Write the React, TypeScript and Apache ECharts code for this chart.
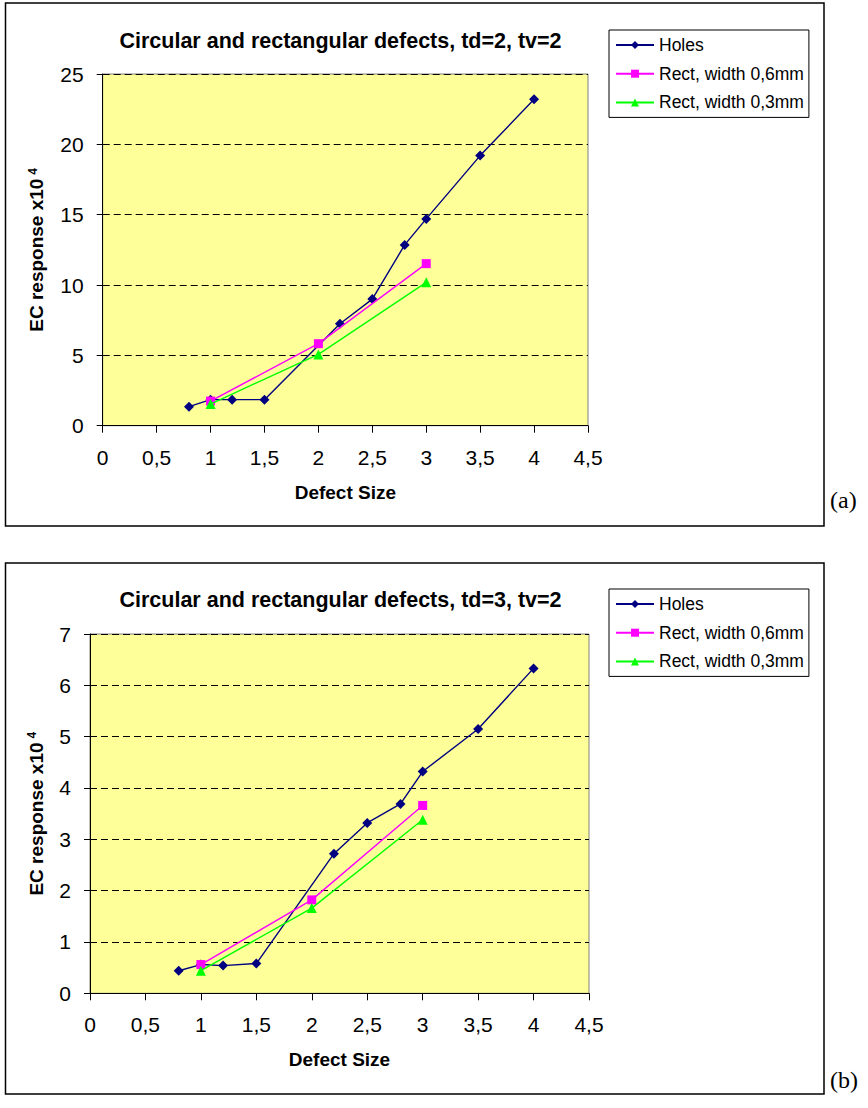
import React, { useEffect, useRef } from "react";
import * as echarts from "echarts";

// ---- Data ----
const holesX = [0.8, 1, 1.2, 1.5, 2.2, 2.5, 2.8, 3, 3.5, 4];
const rectX = [1, 2, 3];

// Chart (a): td=2, tv=2
const holesA = [1.35, 1.85, 1.85, 1.85, 7.25, 9.0, 12.85, 14.7, 19.2, 23.2];
const rect06A = [1.75, 5.83, 11.52];
const rect03A = [1.54, 5.07, 10.19];

// Chart (b): td=3, tv=2
const holesB = [0.44, 0.56, 0.54, 0.58, 2.72, 3.32, 3.69, 4.32, 5.15, 6.33];
const rect06B = [0.56, 1.82, 3.66];
const rect03B = [0.44, 1.66, 3.38];

const seriesNames = ["Holes", "Rect, width 0,6mm", "Rect, width 0,3mm"];
const titles = [
  "Circular and rectangular defects, td=2, tv=2",
  "Circular and rectangular defects, td=3, tv=2",
];
const xTicks = { min: 0, max: 4.5, interval: 0.5 };
const yTicksA = { min: 0, max: 25, interval: 5 };
const yTicksB = { min: 0, max: 7, interval: 1 };
const xName = "Defect Size";
const yName = "EC response x10{sup|4}";

const FONT = '"Liberation Sans", Arial, Helvetica, sans-serif';
const SERIF = '"Liberation Serif", "Times New Roman", serif';

const pair = (xs: number[], ys: number[]) => xs.map((x, i) => [x, ys[i]]);

function buildOption() {
  const grids = [
    { left: 102.7, top: 74, width: 485.3, height: 351.7 },
    { left: 90, top: 634, width: 499, height: 359.3 },
  ].map((g) => ({
    ...g,
    show: true,
    backgroundColor: "#FFFF99",
    borderColor: "#808080",
    borderWidth: 1,
    containLabel: false,
    outerBoundsMode: "none",
  }));

  const mkX = (gi: number) => ({
    gridIndex: gi,
    type: "value",
    min: xTicks.min,
    max: xTicks.max,
    interval: xTicks.interval,
    name: xName,
    nameLocation: "middle",
    nameGap: 57,
    nameTextStyle: { fontFamily: FONT, fontSize: 19, fontWeight: "bold", color: "#000" },
    axisLine: { show: true, onZero: false, lineStyle: { color: "#000", width: 1 } },
    axisTick: { show: true, inside: false, length: 7, lineStyle: { color: "#000", width: 1 } },
    axisLabel: {
      fontFamily: FONT,
      fontSize: 21,
      color: "#000",
      margin: 21,
      formatter: (v: number) => String(v).replace(".", ","),
    },
    splitLine: { show: false },
  });

  const mkY = (gi: number, t: { min: number; max: number; interval: number }, gap: number) => ({
    gridIndex: gi,
    type: "value",
    min: t.min,
    max: t.max,
    interval: t.interval,
    name: yName,
    nameLocation: "middle",
    nameGap: gap,
    nameRotate: 90,
    nameTextStyle: {
      fontFamily: FONT,
      fontSize: 19,
      fontWeight: "bold",
      color: "#000",
      rich: {
        sup: {
          fontFamily: FONT,
          fontSize: 12,
          fontWeight: "bold",
          color: "#000",
          verticalAlign: "top",
          padding: [0, 0, 8, 4],
        },
      },
    },
    axisLine: { show: true, onZero: false, lineStyle: { color: "#000", width: 1 } },
    axisTick: { show: true, inside: false, length: 6, lineStyle: { color: "#000", width: 1 } },
    axisLabel: { fontFamily: FONT, fontSize: 21, color: "#000", margin: 19 },
    splitLine: { show: true, lineStyle: { color: "#000", width: 1, type: [7, 4] } },
  });

  const colors = ["#000080", "#FF00FF", "#00FF00"];
  const symbols = ["diamond", "rect", "triangle"];
  const sizes = [10, 9, 10];

  const mkSeries = (gi: number, datasets: number[][][]) =>
    datasets.map((d, i) => ({
      name: seriesNames[i],
      type: "line",
      xAxisIndex: gi,
      yAxisIndex: gi,
      data: d,
      symbol: symbols[i],
      symbolSize: sizes[i],
      showAllSymbol: true,
      lineStyle: { color: colors[i], width: 1.4 },
      itemStyle: { color: colors[i], borderWidth: 0 },
      emphasis: { disabled: true },
      z: 2 + i,
    }));

  const mkLegend = (top: number) => ({
    show: true,
    orient: "vertical",
    left: 609,
    top,
    data: seriesNames,
    backgroundColor: "#fff",
    borderColor: "#000",
    borderWidth: 1,
    padding: [6, 5, 6, 6],
    itemWidth: 38,
    itemHeight: 10,
    itemGap: 10.7,
    selectedMode: false,
    textStyle: { fontFamily: FONT, fontSize: 17.5, color: "#000", lineHeight: 18 },
  });

  return {
    animation: false,
    backgroundColor: "#fff",
    grid: grids,
    xAxis: [mkX(0), mkX(1)],
    yAxis: [mkY(0, yTicksA, 56), mkY(1, yTicksB, 44)],
    legend: [mkLegend(30), mkLegend(589)],
    series: [
      ...mkSeries(0, [pair(holesX, holesA), pair(rectX, rect06A), pair(rectX, rect03A)]),
      ...mkSeries(1, [pair(holesX, holesB), pair(rectX, rect06B), pair(rectX, rect03B)]),
    ],
    graphic: [
      {
        type: "rect",
        shape: { x: 5.5, y: 3, width: 818.5, height: 523 },
        style: { fill: "none", stroke: "#000", lineWidth: 1.5 },
        z: -10,
        silent: true,
      },
      {
        type: "rect",
        shape: { x: 5.5, y: 563, width: 818.5, height: 531 },
        style: { fill: "none", stroke: "#000", lineWidth: 1.5 },
        z: -10,
        silent: true,
      },
      {
        type: "text",
        x: 340.5,
        y: 40.5,
        style: {
          text: titles[0],
          font: `bold 21.5px ${FONT}`,
          fill: "#000",
          textAlign: "center",
          textVerticalAlign: "middle",
        },
      },
      {
        type: "text",
        x: 340.5,
        y: 600,
        style: {
          text: titles[1],
          font: `bold 21.5px ${FONT}`,
          fill: "#000",
          textAlign: "center",
          textVerticalAlign: "middle",
        },
      },
      {
        type: "text",
        x: 830,
        y: 500,
        style: { text: "(a)", font: `24px ${SERIF}`, fill: "#000", textAlign: "left", textVerticalAlign: "middle" },
      },
      {
        type: "text",
        x: 830,
        y: 1080,
        style: { text: "(b)", font: `24px ${SERIF}`, fill: "#000", textAlign: "left", textVerticalAlign: "middle" },
      },
    ],
  };
}

export default function App() {
  const ref = useRef<HTMLDivElement>(null);
  useEffect(() => {
    if (!ref.current) return;
    const chart = echarts.init(ref.current, null, { renderer: "svg", width: 868, height: 1108 });
    chart.setOption(buildOption() as any);
    return () => chart.dispose();
  }, []);
  return (
    <div
      ref={ref}
      style={{ position: "absolute", left: 0, top: 0, width: 868, height: 1108, background: "#fff" }}
    />
  );
}
